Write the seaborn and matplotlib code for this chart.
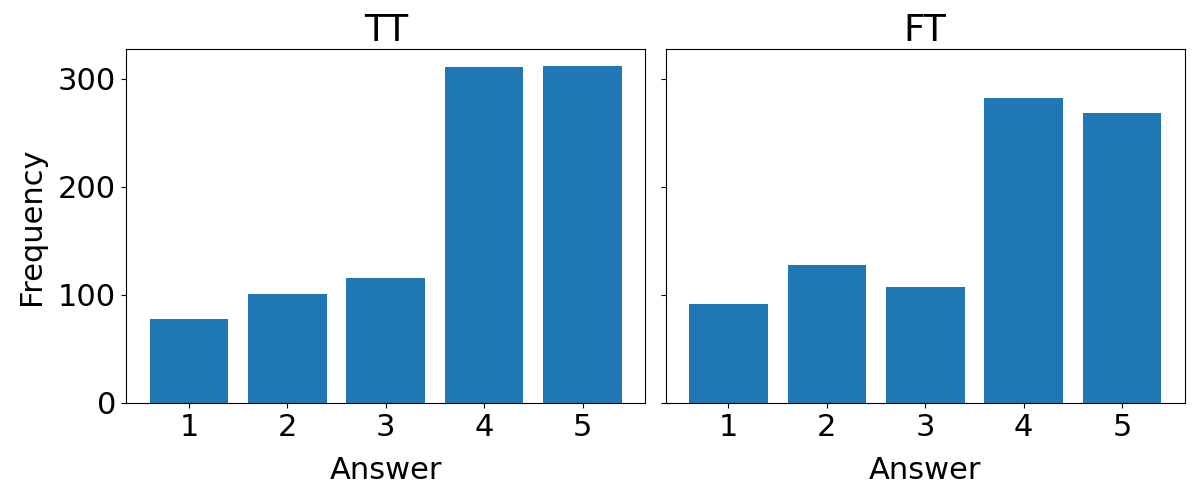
import matplotlib
matplotlib.use('Agg')
import matplotlib.pyplot as plt
from matplotlib.ticker import MultipleLocator
import pandas as pd
import seaborn as sns

plt.rcParams['font.size'] = 22

answers = ['1', '2', '3', '4', '5']
tt_counts = [78, 101, 116, 311, 312]
ft_counts = [92, 128, 107, 282, 268]

df = pd.concat([
    pd.DataFrame({'Answer': answers, 'Frequency': tt_counts, 'group': 'TT'}),
    pd.DataFrame({'Answer': answers, 'Frequency': ft_counts, 'group': 'FT'}),
])

fig, axes = plt.subplots(1, 2, figsize=(12, 5), sharey=True)
for ax, name in zip(axes, ['TT', 'FT']):
    sns.barplot(data=df[df['group'] == name], x='Answer', y='Frequency',
                color='#1f77b4', saturation=1, width=0.8, ax=ax)
    ax.set_title(name)
    ax.set_xlabel('Answer', labelpad=10)
    ax.set_xlim(-0.64, 4.64)
    ax.yaxis.set_major_locator(MultipleLocator(100))
axes[0].set_ylabel('Frequency', labelpad=9)
axes[1].set_ylabel('')

fig.subplots_adjust(left=0.105, right=0.9875, top=0.902, bottom=0.194, wspace=0.0385)
plt.savefig('out.png', dpi=100)
